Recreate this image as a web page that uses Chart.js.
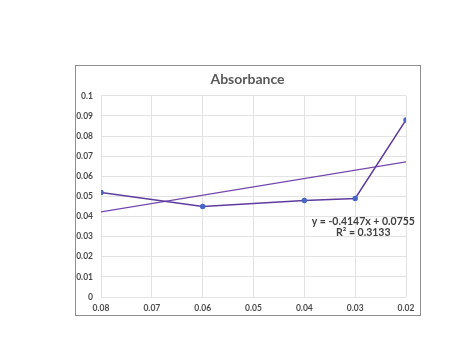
<!DOCTYPE html>
<html>
<head>
<meta charset="utf-8">
<script src="https://cdn.jsdelivr.net/npm/chart.js@4"></script>
<style>
html,body{margin:0;padding:0;background:#fff;}
#wrap{position:relative;width:474px;height:355px;}
</style>
</head>
<body>
<div id="wrap"><canvas id="c" width="474" height="355"></canvas></div>
<script>
// Data
const concentrations = [0.08, 0.06, 0.04, 0.03, 0.02];
const absorbance = [0.052, 0.045, 0.048, 0.049, 0.088];
const trendX = [0.08, 0.02];
const trendY = [0.0423, 0.0672];
const trendLabel = ['y = -0.4147x + 0.0755', 'R² = 0.3133'];
const chartTitle = 'Absorbance';

const fmt = v => String(Number(v.toFixed(2)));
const FONT = 'Lato, "Liberation Sans", sans-serif';

const framePlugin = {
  id: 'frame',
  beforeDraw(chart) {
    const ctx = chart.ctx;
    ctx.save();
    ctx.fillStyle = '#ffffff';
    ctx.fillRect(0, 0, chart.width, chart.height);
    ctx.strokeStyle = '#8f8f8f';
    ctx.lineWidth = 1;
    ctx.strokeRect(75.5, 65.5, 345, 250);
    ctx.restore();
  },
  afterDatasetsDraw(chart) {
    const ctx = chart.ctx;
    const xs = chart.scales.x, ys = chart.scales.y;
    ctx.save();
    ctx.fillStyle = '#404040';
    ctx.font = 'bold 10.5px ' + FONT;
    ctx.textAlign = 'center';
    ctx.textBaseline = 'middle';
    const cx = xs.getPixelForValue(0.0284);
    ctx.fillText(trendLabel[0], cx, ys.getPixelForValue(0.0375));
    ctx.fillText(trendLabel[1], cx, ys.getPixelForValue(0.0318));
    ctx.restore();
  }
};

new Chart(document.getElementById('c'), {
  type: 'scatter',
  data: {
    datasets: [
      {
        label: 'Absorbance',
        data: concentrations.map((x, i) => ({x, y: absorbance[i]})),
        showLine: true,
        borderColor: '#5e3c9e',
        borderWidth: 1.5,
        pointBackgroundColor: '#4668c4',
        pointBorderColor: '#4668c4',
        pointRadius: 2,
        order: 1
      },
      {
        label: 'Trend',
        data: trendX.map((x, i) => ({x, y: trendY[i]})),
        showLine: true,
        borderColor: '#7447ad',
        borderWidth: 1.3,
        pointRadius: 0,
        order: 2
      }
    ]
  },
  options: {
    responsive: false,
    animation: false,
    devicePixelRatio: 1,
    layout: { padding: { left: 75, right: 54, top: 65, bottom: 40 } },
    plugins: {
      legend: { display: false },
      tooltip: { enabled: false },
      title: {
        display: true,
        text: chartTitle,
        color: '#595959',
        font: { family: FONT, size: 14, weight: 'bold' },
        padding: { top: 6, bottom: 8 }
      }
    },
    scales: {
      x: {
        type: 'linear',
        reverse: true,
        min: 0.02,
        max: 0.08,
        border: { display: false },
        grid: { color: '#e3e3e3', lineWidth: 1, drawTicks: false },
        ticks: {
          stepSize: 0.01,
          color: '#4a4a4a',
          font: { family: FONT, size: 8.5, weight: 'bold' },
          padding: 6,
          maxRotation: 0,
          callback: v => fmt(v)
        },
        afterFit(s) { s.height = 18; }
      },
      y: {
        type: 'linear',
        min: 0,
        max: 0.1,
        border: { display: false },
        grid: { color: '#e3e3e3', lineWidth: 1, drawTicks: false },
        ticks: {
          stepSize: 0.01,
          color: '#4a4a4a',
          font: { family: FONT, size: 8.5, weight: 'bold' },
          padding: 8,
          callback: v => fmt(v)
        },
        afterFit(s) { s.width = 26; }
      },
      yR: {
        type: 'linear',
        position: 'right',
        display: true,
        border: { display: false },
        grid: { display: false },
        ticks: { display: false },
        afterFit(s) { s.width = 14; }
      }
    }
  },
  plugins: [framePlugin]
});
</script>
</body>
</html>
